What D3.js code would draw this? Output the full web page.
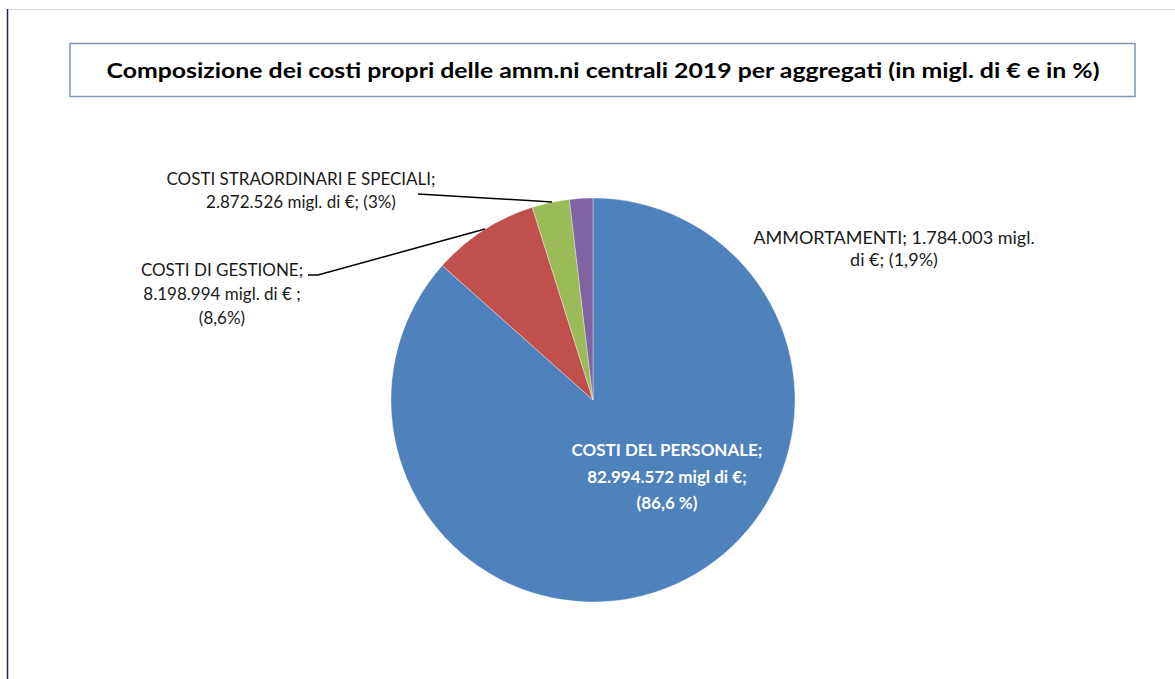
<!DOCTYPE html>
<html><head><meta charset="utf-8">
<script src="https://cdn.jsdelivr.net/npm/d3@7"></script>
<style>body{margin:0;background:#fff}svg{display:block}text{font-family:Lato,"Open Sans",sans-serif}</style>
</head><body>
<svg id="c" width="1175" height="679"></svg>
<script>
const categories = ["COSTI DEL PERSONALE", "COSTI DI GESTIONE", "COSTI STRAORDINARI E SPECIALI", "AMMORTAMENTI"];
const values = [82994572, 8198994, 2872526, 1784003];
const colors = ["#4f81bd", "#c0504d", "#9bbb59", "#8064a2"];
const labelLines = [
  ["COSTI DEL PERSONALE;", "82.994.572 migl di €;", "(86,6 %)"],
  ["COSTI DI GESTIONE;", "8.198.994 migl. di € ;", "(8,6%)"],
  ["COSTI STRAORDINARI E SPECIALI;", "2.872.526 migl. di €; (3%)"],
  ["AMMORTAMENTI; 1.784.003  migl.", "di €; (1,9%)"]
];
const title = "Composizione  dei costi propri delle amm.ni centrali 2019 per aggregati (in migl. di € e in %)";

const svg = d3.select("#c");
// frame lines
svg.append("line").attr("x1",8).attr("x2",1175).attr("y1",9.5).attr("y2",9.5).attr("stroke","#d9d9d9").attr("stroke-width",1);
svg.append("line").attr("x1",7.5).attr("x2",7.5).attr("y1",9).attr("y2",679).attr("stroke","#1f2a5e").attr("stroke-width",1.5);

// title box
svg.append("rect").attr("x",70).attr("y",43.5).attr("width",1065).attr("height",53)
  .attr("fill","#fff").attr("stroke","#7f95b9").attr("stroke-width",1.5);
svg.append("text").attr("x",603).attr("y",78).attr("text-anchor","middle")
  .attr("font-size",21).attr("font-weight","bold").attr("fill","#000")
  .attr("textLength",993).attr("lengthAdjust","spacingAndGlyphs").text(title);

const cx = 593, cy = 400, r = 202;
const pie = d3.pie().sort(null).value(d=>d)(values);
const arc = d3.arc().innerRadius(0).outerRadius(r);
const g = svg.append("g").attr("transform",`translate(${cx},${cy})`);
g.selectAll("path").data(pie).join("path")
  .attr("d",arc).attr("fill",(d,i)=>colors[i])
  .attr("stroke","rgba(255,255,255,0.5)").attr("stroke-width",0.7);

// labels
const fs = 17;
function label(lines, x, y, lh, opts={}) {
  const t = svg.append("text").attr("text-anchor","middle").attr("font-size",opts.size||fs)
    .attr("fill",opts.fill||"#1a1a1a").attr("font-weight",opts.weight||"normal");
  lines.forEach((l,i)=>t.append("tspan").attr("x",x).attr("y",y+i*lh).text(l));
}
label(labelLines[0], 667, 456, 26.5, {fill:"#fff", weight:"bold", size:17});
label(labelLines[1], 222, 276, 24);
label(labelLines[2], 301, 185, 23);
label(labelLines[3], 894, 244, 21.5, {size:18});

// leader lines
svg.append("polyline").attr("fill","none").attr("stroke","#000").attr("stroke-width",1.5)
  .attr("points",[[308,275],[318,275],[485,229]].map(p=>p.join(",")).join(" "));
svg.append("polyline").attr("fill","none").attr("stroke","#000").attr("stroke-width",1.5)
  .attr("points",[[418,194],[552,202]].map(p=>p.join(",")).join(" "));
</script>
</body></html>
